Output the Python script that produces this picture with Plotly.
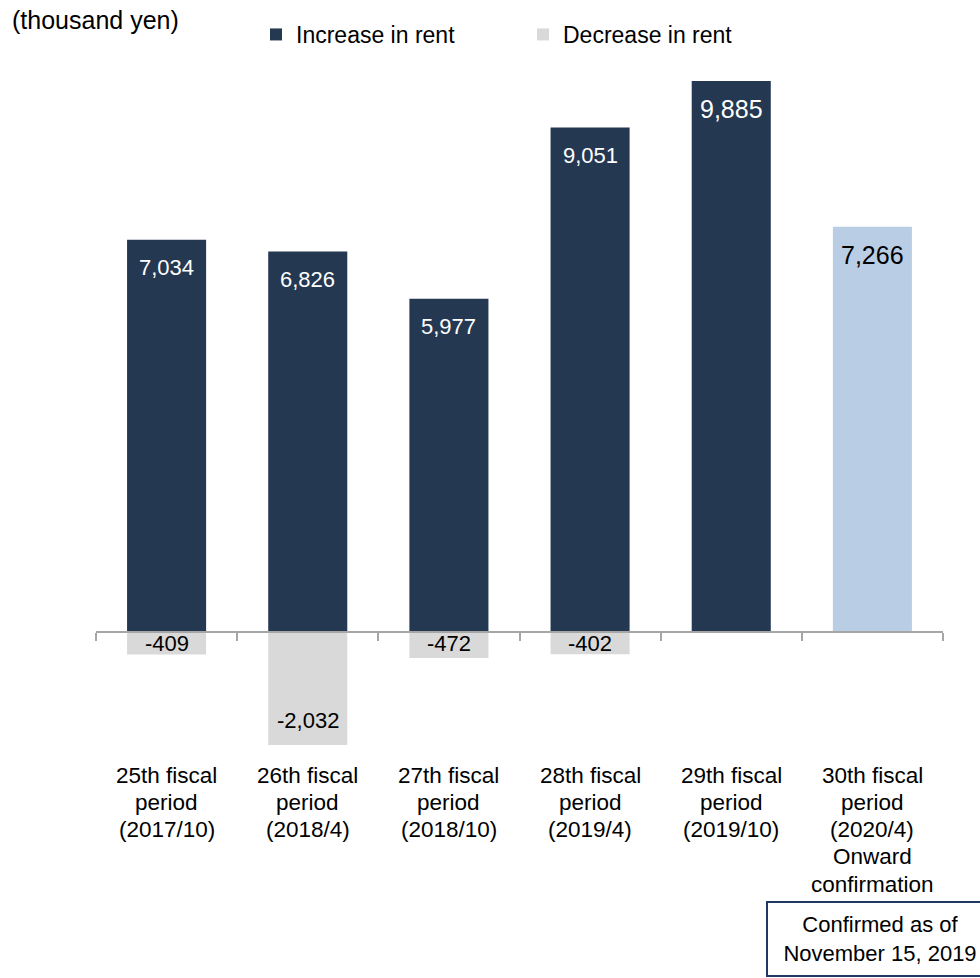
import plotly.graph_objects as go

# Periods on the category axis
periods = [
    "25th fiscal<br>period<br>(2017/10)",
    "26th fiscal<br>period<br>(2018/4)",
    "27th fiscal<br>period<br>(2018/10)",
    "28th fiscal<br>period<br>(2019/4)",
    "29th fiscal<br>period<br>(2019/10)",
    "30th fiscal<br>period<br>(2020/4)<br>Onward<br>confirmation",
]
# Rent changes (thousand yen)
increase = [7034, 6826, 5977, 9051, 9885, 7266]
decrease = [-409, -2032, -472, -402, None, None]

NAVY = "#243852"
LIGHT_BLUE = "#B9CDE5"
GRAY = "#D9D9D9"
AXIS_GRAY = "#A6A6A6"
FONT = "Liberation Sans, Arial, sans-serif"

W, H = 980, 978
M_L, M_R, M_T, M_B = 96, 37, 60, 218
Y_MIN, Y_MAX = -2300, 10260
plot_w = W - M_L - M_R
plot_h = H - M_T - M_B
px_per_unit = plot_h / (Y_MAX - Y_MIN)
zero_pos = (0 - Y_MIN) / (Y_MAX - Y_MIN)

inc_colors = [NAVY] * (len(increase) - 1) + [LIGHT_BLUE]

fig = go.Figure()
fig.add_trace(go.Bar(
    x=periods, y=increase, name="Increase in rent",
    marker=dict(color=inc_colors, line=dict(width=0)),
    width=0.56, hoverinfo="skip",
))
fig.add_trace(go.Bar(
    x=periods, y=decrease, name="Decrease in rent",
    marker=dict(color=GRAY, line=dict(width=0)),
    width=0.56, hoverinfo="skip",
))

annotations = []
# value labels inside the bar ends
for i, (p, v) in enumerate(zip(periods, increase)):
    last = i == len(increase) - 1
    big = v == max(increase) or last
    annotations.append(dict(
        x=p, y=v, xref="x", yref="y", text=f"{v:,}", showarrow=False,
        yanchor="middle", yshift=-28,
        font=dict(family=FONT, size=25 if big else 22,
                  color="black" if last else "white"),
    ))
for p, v in zip(periods, decrease):
    if v is None:
        continue
    depth = abs(v) * px_per_unit
    annotations.append(dict(
        x=p, y=v, xref="x", yref="y", text=f"{v:,}", showarrow=False,
        yanchor="middle", yshift=min(25, depth - 12),
        font=dict(family=FONT, size=22, color="black"),
    ))

# category labels below the chart, one line at a time
LINE_STEP = 27.3
first_line_center = 775 - (H - M_B)  # pixels below the plot bottom
for p in periods:
    for k, line in enumerate(p.split("<br>")):
        annotations.append(dict(
            x=p, y=0, xref="x", yref="paper",
            text=line, showarrow=False, yanchor="middle",
            yshift=-(first_line_center + k * LINE_STEP),
            font=dict(family=FONT, size=22.5, color="black"),
        ))

# unit label
annotations.append(dict(
    x=(10 - M_L) / plot_w, y=1 + (M_T - 4) / plot_h,
    xref="paper", yref="paper", text="(thousand yen)",
    showarrow=False, xanchor="left", yanchor="top",
    font=dict(family=FONT, size=25, color="black"),
))

# confirmation box, running off the right edge of the page
annotations.append(dict(
    x=(766 - M_L) / plot_w, y=-(939 - (H - M_B)) / plot_h,
    xref="paper", yref="paper",
    text="Confirmed as of<br>November 15, 2019", showarrow=False,
    xanchor="left", yanchor="middle", width=206, align="center",
    font=dict(family=FONT, size=22, color="black"),
    bordercolor="#1F3864", borderwidth=2, borderpad=9, bgcolor="white",
))

fig.update_layout(
    width=W, height=H,
    margin=dict(l=M_L, r=M_R, t=M_T, b=M_B, autoexpand=False),
    paper_bgcolor="white", plot_bgcolor="white",
    barmode="relative", bargap=0.44,
    font=dict(family=FONT, size=22, color="black"),
    showlegend=True,
    legend=dict(
        orientation="h", xref="container", yref="container",
        x=256 / W, y=1 - 13 / H, xanchor="left", yanchor="top",
        font=dict(family=FONT, size=23, color="black"),
        entrywidth=222, entrywidthmode="pixels",
        bgcolor="rgba(0,0,0,0)", traceorder="normal",
    ),
    xaxis=dict(
        anchor="free", position=zero_pos,
        showline=True, linecolor=AXIS_GRAY, linewidth=2,
        ticks="outside", tickson="boundaries", ticklen=8,
        tickcolor=AXIS_GRAY, tickwidth=2,
        showticklabels=False, showgrid=False, zeroline=False,
        fixedrange=True,
    ),
    yaxis=dict(range=[Y_MIN, Y_MAX], visible=False, fixedrange=True),
    annotations=annotations,
)

fig.write_html("out.html")
